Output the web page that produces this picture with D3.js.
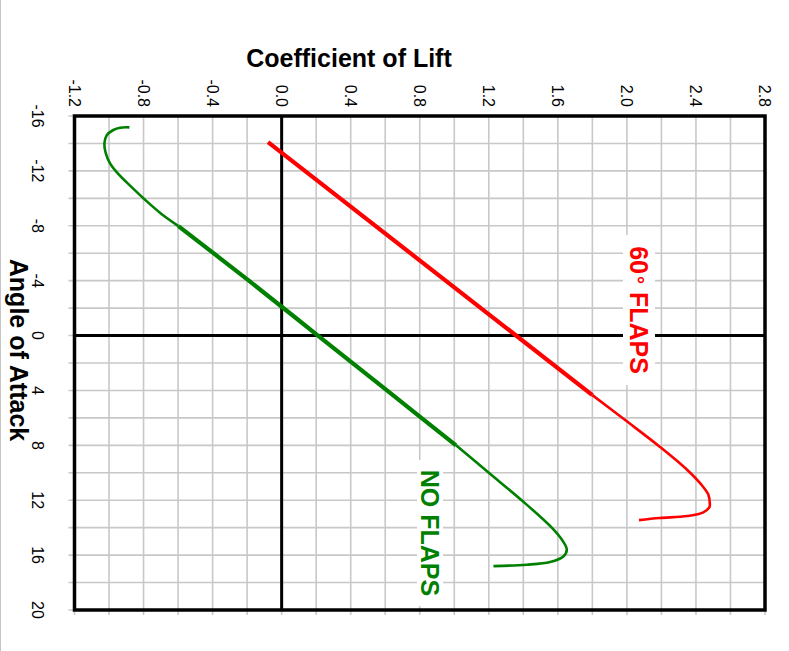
<!DOCTYPE html>
<html>
<head>
<meta charset="utf-8">
<script src="https://cdn.jsdelivr.net/npm/d3@7"></script>
<style>
  body { margin: 0; background: #fff; }
  svg { display: block; font-family: "Liberation Sans", Arial, sans-serif; }
</style>
</head>
<body>
<svg id="chart"></svg>
<script>
// tick labels
const liftTicks = [-1.2, -0.8, -0.4, 0.0, 0.4, 0.8, 1.2, 1.6, 2.0, 2.4, 2.8];
const angleTicks = [-16, -12, -8, -4, 0, 4, 8, 12, 16, 20];

// NO FLAPS curve: angle of attack (deg) and lift coefficient
const noFlapsAngle = [-15.17, -15.15, -14.98, -14.6, -14.0, -13.3, -12.55, -11.8, -10.85, -9.88, -8.9, -7.98,
  -4, 0, 4, 8,
  10, 12, 14, 15.0, 15.6, 16.1, 16.5, 16.7, 16.8];
const noFlapsLift = [-0.882, -0.936, -0.975, -1.013, -1.027, -1.019, -0.994, -0.948, -0.872, -0.79, -0.70, -0.598,
  -0.19, 0.21, 0.61, 1.01,
  1.20, 1.39, 1.565, 1.63, 1.652, 1.632, 1.555, 1.42, 1.227];

// 60 deg FLAPS curve
const flapsAngle = [-14.1, 4.34, 6.16, 8.1, 9.8, 11.0, 11.6, 12.2, 12.5, 12.9, 13.15, 13.3, 13.45];
const flapsLift = [-0.079, 1.80, 1.99, 2.19, 2.35, 2.44, 2.472, 2.48, 2.478, 2.44, 2.35, 2.19, 2.07];

const width = 789;
const height = 651;
const margin = { top: 116, right: 24, bottom: 41, left: 74.5 };

const svg = d3.select('#chart')
  .attr('width', width)
  .attr('height', height);

const x = d3.scaleLinear()
  .domain([-1.2, 2.8])
  .range([margin.left, width - margin.right]);

const y = d3.scaleLinear()
  .domain([-16, 20])
  .range([margin.top, height - margin.bottom]);

// window edge
svg.append('line')
  .attr('x1', 0.5).attr('x2', 0.5)
  .attr('y1', 0).attr('y2', height)
  .attr('stroke', '#c4c4c4');

// grid
const gridX = d3.range(-1.2, 2.81, 0.2);
const gridY = d3.range(-16, 20.1, 2);

svg.append('g')
  .selectAll('line')
  .data(gridX)
  .join('line')
  .attr('x1', d => x(d)).attr('x2', d => x(d))
  .attr('y1', y(-16)).attr('y2', y(20) + 5)
  .attr('stroke', '#c8c8c8')
  .attr('stroke-width', 1.6);

svg.append('g')
  .selectAll('line')
  .data(gridY)
  .join('line')
  .attr('x1', x(-1.2) - 6).attr('x2', x(2.8))
  .attr('y1', d => y(d)).attr('y2', d => y(d))
  .attr('stroke', '#c8c8c8')
  .attr('stroke-width', 1.6);

// zero lines
svg.append('line')
  .attr('x1', x(0)).attr('x2', x(0))
  .attr('y1', y(-16)).attr('y2', y(20))
  .attr('stroke', '#000').attr('stroke-width', 3);
svg.append('line')
  .attr('x1', x(-1.2)).attr('x2', x(2.8))
  .attr('y1', y(0)).attr('y2', y(0))
  .attr('stroke', '#000').attr('stroke-width', 3);

// frame
svg.append('rect')
  .attr('x', x(-1.2)).attr('y', y(-16))
  .attr('width', x(2.8) - x(-1.2))
  .attr('height', y(20) - y(-16))
  .attr('fill', 'none')
  .attr('stroke', '#000')
  .attr('stroke-width', 3.5);

// tick labels
svg.append('g')
  .selectAll('text')
  .data(liftTicks)
  .join('text')
  .attr('transform', d => `translate(${x(d)},${y(-16) - 9}) rotate(90)`)
  .attr('text-anchor', 'end')
  .attr('dy', '0.35em')
  .attr('font-size', 16)
  .attr('fill', '#000')
  .text(d => d.toFixed(1));

svg.append('g')
  .selectAll('text')
  .data(angleTicks)
  .join('text')
  .attr('transform', d => `translate(${x(-1.2) - 37},${y(d)}) rotate(90)`)
  .attr('text-anchor', 'middle')
  .attr('dy', '0.35em')
  .attr('font-size', 16)
  .attr('fill', '#000')
  .text(d => d);

// axis titles
svg.append('text')
  .attr('x', 349)
  .attr('y', 67)
  .attr('text-anchor', 'middle')
  .attr('font-size', 25)
  .attr('font-weight', 'bold')
  .text('Coefficient of Lift');

svg.append('text')
  .attr('transform', `translate(19,350) rotate(90)`)
  .attr('text-anchor', 'middle')
  .attr('dy', '0.35em')
  .attr('font-size', 25)
  .attr('font-weight', 'bold')
  .text('Angle of Attack');

// series labels with white boxes
const labels = [
  { cx: 639, cy: 310, w: 32, h: 150, color: '#ff0000' },
  { cx: 430, cy: 533, w: 26, h: 146, color: '#008000' }
];

labels.forEach(l => {
  svg.append('rect')
    .attr('x', l.cx - l.w / 2).attr('y', l.cy - l.h / 2)
    .attr('width', l.w).attr('height', l.h)
    .attr('fill', '#fff');
});

const flapsLabel = svg.append('text')
  .attr('transform', `translate(${labels[0].cx},${labels[0].cy}) rotate(90)`)
  .attr('text-anchor', 'middle')
  .attr('dy', '0.35em')
  .attr('font-size', 25)
  .attr('font-weight', 'bold')
  .attr('fill', labels[0].color);
flapsLabel.append('tspan').text('60');
flapsLabel.append('tspan').attr('dx', 2).attr('font-size', 20).text('°');
flapsLabel.append('tspan').attr('dx', 8).text('FLAPS');

svg.append('text')
  .attr('transform', `translate(${labels[1].cx},${labels[1].cy}) rotate(90)`)
  .attr('text-anchor', 'middle')
  .attr('dy', '0.35em')
  .attr('font-size', 25)
  .attr('font-weight', 'bold')
  .attr('fill', labels[1].color)
  .text('NO FLAPS');

// curves
const line = d3.line()
  .x(d => x(d[1]))
  .y(d => y(d[0]))
  .curve(d3.curveCatmullRom.alpha(0.5));

const noFlaps = noFlapsAngle.map((a, i) => [a, noFlapsLift[i]]);
const flaps = flapsAngle.map((a, i) => [a, flapsLift[i]]);

// straight part is drawn heavier, as in the original
const noFlapsStart = noFlaps.slice(0, 12);
const noFlapsMid = noFlaps.slice(11, 16);
const noFlapsEnd = noFlaps.slice(15);
const flapsMid = flaps.slice(0, 2);
const flapsEnd = flaps.slice(1);

[[noFlapsStart, 2.6], [noFlapsMid, 4.2], [noFlapsEnd, 2.6]].forEach(([pts, w]) => {
  svg.append('path')
    .attr('d', line(pts))
    .attr('fill', 'none')
    .attr('stroke', '#008000')
    .attr('stroke-width', w);
});

[[flapsMid, 4.2], [flapsEnd, 2.6]].forEach(([pts, w]) => {
  svg.append('path')
    .attr('d', line(pts))
    .attr('fill', 'none')
    .attr('stroke', '#ff0000')
    .attr('stroke-width', w);
});
</script>
</body>
</html>
